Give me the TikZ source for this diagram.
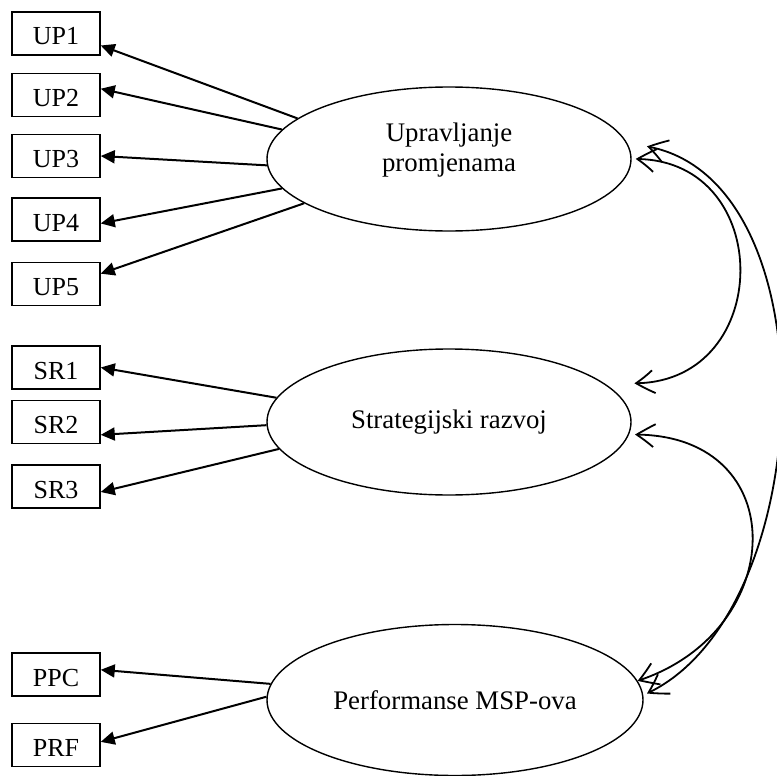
\documentclass[tikz,border=0pt]{standalone}
\usepackage{fontspec}
\setmainfont{Liberation Serif}
\usetikzlibrary{
bending,
positioning,
shapes.geometric,
arrows.meta,
}
\tikzset{
indicator/.style={rectangle, draw, line width=0.75pt, minimum width=44pt,
  minimum height=21.5pt, inner sep=0pt, font=\fontsize{13}{15}\selectfont,
  text height=11.5pt, text depth=0pt},
latent/.style={ellipse, draw, line width=0.7pt, inner sep=0pt, align=center,
  font=\fontsize{13.4}{15}\selectfont},
load/.style={-{Triangle[length=7pt, width=6.5pt]}, line width=1pt},
cov/.style={{Straight Barb[length=9pt, width=11.5pt, bend]}-{Straight Barb[length=9pt, width=11.5pt, bend]},
  line width=0.9pt},
}

\begin{document}
\begin{tikzpicture}[x=0.5pt, y=0.5pt]
    \useasboundingbox (0,0) rectangle (777,-776);

    % latent variables
    \node [latent, minimum width=182pt, minimum height=72pt, text depth=12pt] (upr) at (449,-159) {Upravljanje\\promjenama};
    \node [latent, minimum width=182pt, minimum height=73pt] (srz) at (449,-422) {Strategijski razvoj};
    \node [latent, minimum width=188pt, minimum height=75.5pt] (msp) at (455,-700) {Performanse MSP-ova};

    % indicators
    \node [indicator] (up1) at (56,-33.5) {UP1};
    \node [indicator] (up2) at (56,-95) {UP2};
    \node [indicator] (up3) at (56,-156) {UP3};
    \node [indicator] (up4) at (56,-219.5) {UP4};
    \node [indicator] (up5) at (56,-284) {UP5};
    \node [indicator] (sr1) at (56,-367.5) {SR1};
    \node [indicator] (sr2) at (56,-422) {SR2};
    \node [indicator] (sr3) at (56,-486.5) {SR3};
    \node [indicator] (ppc) at (56,-674.5) {PPC};
    \node [indicator] (prf) at (56,-745) {PRF};

    \draw [load] (upr.165) -- (up1.-15);
    \draw [load] (upr.170) -- (up2.8);
    \draw [load] (upr.182) -- (up3.0);
    \draw [load] (upr.190) -- (up4.-5);
    \draw [load] (upr.197) -- (up5.13);
    \draw [load] (srz.172) -- (sr1.0);
    \draw [load] (srz.181) -- (sr2.-16);
    \draw [load] (srz.189) -- (sr3.-7);
    \draw [load] (msp.175) -- (ppc.6);
    \draw [load] (msp.179) -- (prf.4);

    % covariances
    \draw [cov] ([xshift=2pt]upr.east) to [out=0, in=0, looseness=1.6] ([xshift=15pt]srz.14);
    \draw [cov] ([xshift=9pt]upr.4) to [out=-10, in=25, looseness=0.89] ([xshift=2pt]msp.2);
    \draw [cov] ([xshift=3pt]srz.-4) to [out=0, in=18, looseness=1.65] (msp.6);
\end{tikzpicture}
\end{document}
